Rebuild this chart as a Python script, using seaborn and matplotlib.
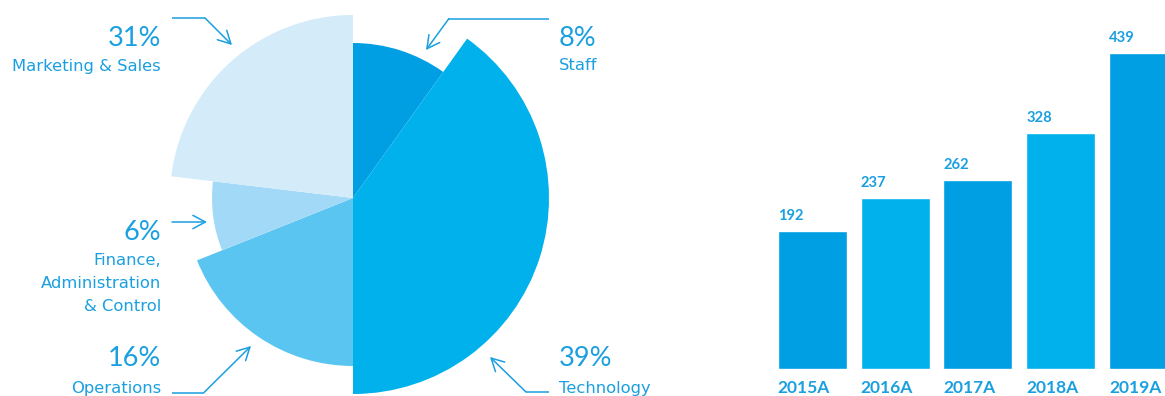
import numpy as np
import pandas as pd
import matplotlib
matplotlib.use("Agg")
import matplotlib.pyplot as plt
import seaborn as sns

# ---------------- data ----------------
segments = ["Staff", "Technology", "Operations", "Finance,\nAdministration\n& Control", "Marketing & Sales"]
pct_labels = [8, 39, 16, 6, 31]
arc_deg = [35.6, 144.4, 68.2, 28.6, 83.2]        # angular extent
radius = [155, 196, 168, 141, 183]                # outer radius
pie_colors = ["#009FE3", "#00B1EB", "#5BC5F2", "#A2D9F7", "#D4EBFA"]

years = ["2015A", "2016A", "2017A", "2018A", "2019A"]
values = [192, 237, 262, 328, 439]
bar_colors = ["#009FE3", "#00B1EB", "#009FE3", "#00B1EB", "#009FE3"]

TXT = "#1A9FE0"
W, H = 1165, 396

sns.set_theme(style="white")
plt.rcParams["font.family"] = ["Lato", "DejaVu Sans"]

fig = plt.figure(figsize=(W / 100, H / 100), dpi=100)
fig.patch.set_facecolor("white")

def fx(px):
    return px / W

def fy(py):
    return (H - py) / H

# ---------------- variable-radius pie (polar bars) ----------------
cx, cy, R = 353, 198, 200
pax = fig.add_axes([fx(cx - R), fy(cy + R), 2 * R / W, 2 * R / H], projection="polar")
pax.set_theta_zero_location("N")
pax.set_theta_direction(-1)
starts = np.deg2rad(np.concatenate([[0], np.cumsum(arc_deg)[:-1]]))
widths = np.deg2rad(arc_deg)
pax.bar(starts, radius, width=widths, bottom=0, align="edge",
        color=pie_colors, linewidth=0, antialiased=True)
pax.set_ylim(0, R)
pax.set_axis_off()

# ---------------- bar chart ----------------
bw = 0.834
bax = fig.add_axes([fx(771), fy(369), (W - 771) / W, 360 / H])
df = pd.DataFrame({"year": years, "value": values})
sns.barplot(data=df, x="year", y="value", hue="year", palette=bar_colors,
            width=bw, legend=False, ax=bax, saturation=1)
bax.set_xlim(-0.5, 4.26)
bax.set_ylim(0, 500)
bax.set_axis_off()
for i, (yr, v) in enumerate(zip(years, values)):
    bax.annotate(str(v), xy=(i - bw / 2, v), xytext=(0, 8), textcoords="offset points",
                 ha="left", va="baseline", fontsize=10.6, fontweight="bold",
                 color=TXT, annotation_clip=False)
    bax.annotate(yr, xy=(i - bw / 2, 0), xytext=(0, -14), textcoords="offset points",
                 ha="left", va="center", fontsize=12.5, fontweight="bold",
                 color=TXT, annotation_clip=False)

# ---------------- overlay for pie labels & arrows ----------------
oax = fig.add_axes([0, 0, 1, 1], facecolor="none")
oax.set_xlim(0, W)
oax.set_ylim(H, 0)
oax.set_axis_off()

def arrow(points):
    pts = np.array(points, dtype=float)
    if len(pts) > 2:
        oax.plot(pts[:-1, 0], pts[:-1, 1], color=TXT, lw=1.1, solid_capstyle="butt")
    oax.annotate("", xy=pts[-1], xytext=pts[-2],
                 arrowprops=dict(arrowstyle="->,head_length=0.75,head_width=0.4",
                                 color=TXT, lw=1.1, shrinkA=0, shrinkB=0))

arrow([(172, 18), (205, 18), (232, 45)])        # Marketing & Sales
arrow([(549, 18.5), (449, 18.5), (426, 50)])    # Staff
arrow([(172, 222), (207, 222)])                 # Finance
arrow([(172, 392.5), (204, 392.5), (251, 346)]) # Operations
arrow([(549, 392), (526, 392), (490, 357)])     # Technology

pct_fs, lab_fs = 19.5, 11.8
def label(x, y_pct, y_lab, pct, text, ha):
    oax.text(x, y_pct, f"{pct}%", ha=ha, va="center", fontsize=pct_fs,
             fontweight="normal", color=TXT, family=["Lato", "DejaVu Sans"])
    for k, line in enumerate(text.split("\n")):
        oax.text(x, y_lab + 23.2 * k, line, ha=ha, va="center", fontsize=lab_fs,
                 color=TXT, family=["DejaVu Sans"])

label(161, 38, 66, pct_labels[4], segments[4], "right")
label(559, 38, 66, pct_labels[0], segments[0], "left")
label(161, 233, 260.5, pct_labels[3], segments[3], "right")
label(161, 359, 389, pct_labels[2], segments[2], "right")
label(559, 359, 389, pct_labels[1], segments[1], "left")

fig.savefig("out.png", dpi=100, facecolor="white")
